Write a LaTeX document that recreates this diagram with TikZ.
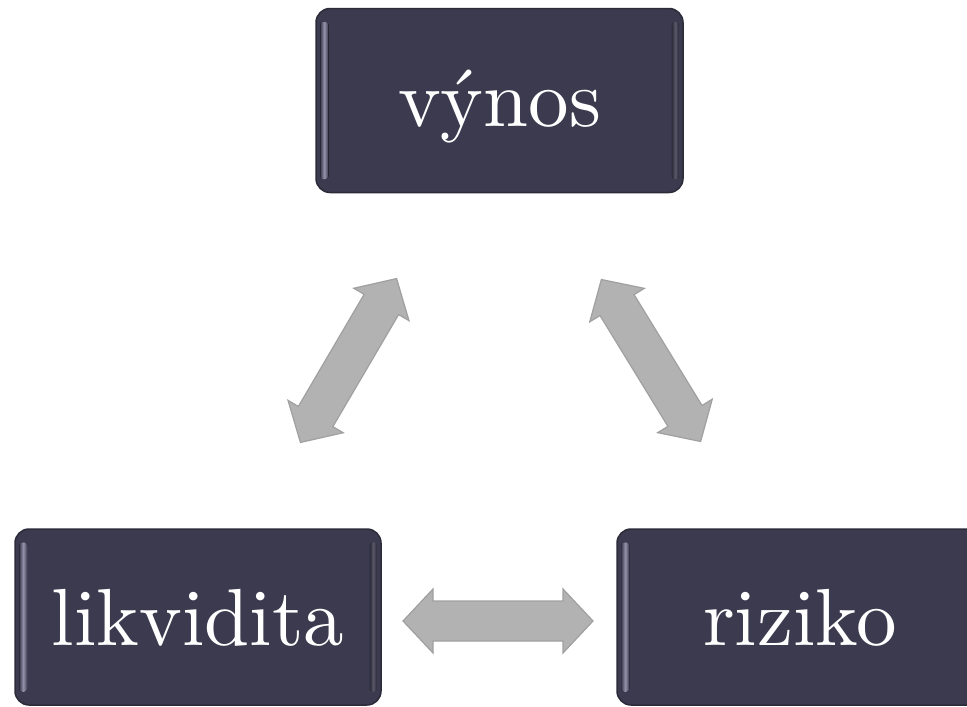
\documentclass[tikz,border=0pt]{standalone}
\usetikzlibrary{calc}
\font\boxrm="[lmroman10-regular]:mapping=tex-text" at 81pt
\definecolor{boxfill}{RGB}{60,58,78}
\definecolor{boxedge}{RGB}{44,43,58}
\definecolor{hilite}{RGB}{150,148,172}
\definecolor{arrfill}{RGB}{178,178,178}
\definecolor{arredge}{RGB}{160,160,160}
\tikzset{
  box/.style={draw=boxedge, line width=1.5pt, fill=boxfill, rounded corners=14pt,
    text=white, font=\boxrm, inner sep=0pt},
  topbox/.style={box, minimum width=367pt, minimum height=184pt, text height=60pt, text depth=9pt},
  botbox/.style={box, minimum width=366pt, minimum height=176pt, text height=62pt, text depth=6pt},
  blockarrow/.style={fill=arrfill, draw=arredge, line width=1.2pt, line join=miter},
  hl/.style={left color=boxfill, right color=boxfill, middle color=hilite, rounded corners=3pt}
}
\newcommand{\dblarrow}[3]{% center, angle, name
  \begin{scope}[shift={#1}, rotate=#2]
    \coordinate (#3) at (0,0);
    \path[blockarrow] (-95,0) -- (-65,32) -- (-65,20) -- (65,20) -- (65,32) -- (95,0)
      -- (65,-32) -- (65,-20) -- (-65,-20) -- (-65,-32) -- cycle;
  \end{scope}}
\begin{document}
\begin{tikzpicture}[x=1pt,y=-1pt]
\useasboundingbox (0,0) rectangle (967,707);
\clip (0,0) rectangle (967,707);
\fill[white] (0,0) rectangle (967,707);
% boxes
\node[topbox] (v) at (499.5,100.5) {výnos};
\node[botbox] (l) at (198,617) {likvidita};
\node[botbox] (r) at (800,617) {riziko};
% highlights
\foreach \b in {v,l,r}{
  \fill[hl] ($(\b.north west)+(5,14)$) rectangle ($(\b.south west)+(13,-14)$);
  \fill[hl,opacity=0.5] ($(\b.north east)+(-12,14)$) rectangle ($(\b.south east)+(-5,-14)$);
}
% arrows
\dblarrow{(348.5,360.5)}{59.6}{a1}
\dblarrow{(651,360.5)}{-58.5}{a2}
\dblarrow{(498,621)}{0}{a3}
\end{tikzpicture}
\end{document}
